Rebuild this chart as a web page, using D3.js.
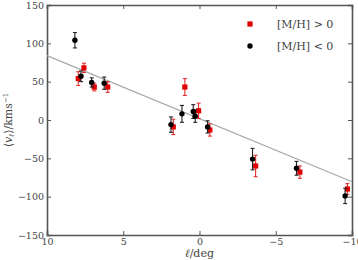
<!DOCTYPE html>
<html>
<head>
<meta charset="utf-8">
<script src="https://cdn.jsdelivr.net/npm/d3@7"></script>
<style>
  html, body { margin: 0; padding: 0; background: #fff; }
  svg { display: block; font-family: "DejaVu Serif", "Liberation Serif", serif; }
</style>
</head>
<body>
<div id="chart"></div>
<script>
// metal-poor stars, [M/H] < 0
var poorL = [8.17, 7.77, 7.07, 6.25, 1.87, 1.15, 0.41, 0.28, -0.53, -3.48, -6.36, -9.55];
var poorV = [104, 57, 49, 48, -6, 8, 11, 5, -9, -51, -63, -99];
var poorErr = [10, 7, 6, 8, 10, 11, 9, 8, 8, 14, 9, 10];

// metal-rich stars, [M/H] > 0
var richL = [7.95, 7.58, 6.9, 6.02, 1.72, 0.96, 0.06, -0.68, -3.68, -6.58, -9.7];
var richV = [54, 68, 43, 43, -9, 43, 12, -13, -60, -68, -90];
var richErr = [9, 6, 5, 7, 10, 11, 10, 8, 14, 8, 7];

// linear fit
var fitL = [10, -10];
var fitV = [84, -80.5];

var xTicks = [10, 5, 0, -5, -10];
var yTicks = [-150, -100, -50, 0, 50, 100, 150];

(function () {
  'use strict';

  var width = 358, height = 260;
  var margin = { top: 5, right: 6, bottom: 25, left: 47 };

  var svg = d3.select('#chart').append('svg')
    .attr('width', width)
    .attr('height', height);

  var x = d3.scaleLinear().domain([10, -10]).range([margin.left, width - margin.right]);
  var y = d3.scaleLinear().domain([-150, 150]).range([height - margin.bottom, margin.top]);

  var axisColor = '#555';
  var textColor = '#444';
  var minus = function (d) { return d3.format('')(d).replace('-', '\u2212'); };

  // axes (ticks point inward, on all four sides)
  var bottom = svg.append('g')
    .attr('transform', 'translate(0,' + (height - margin.bottom) + ')')
    .call(d3.axisBottom(x).tickValues(xTicks).tickSize(-4).tickPadding(3).tickFormat(minus));
  var top = svg.append('g')
    .attr('transform', 'translate(0,' + margin.top + ')')
    .call(d3.axisTop(x).tickValues(xTicks).tickSize(-4).tickFormat(''));
  var left = svg.append('g')
    .attr('transform', 'translate(' + margin.left + ',0)')
    .call(d3.axisLeft(y).tickValues(yTicks).tickSize(-4).tickPadding(3).tickFormat(minus));
  var right = svg.append('g')
    .attr('transform', 'translate(' + (width - margin.right) + ',0)')
    .call(d3.axisRight(y).tickValues(yTicks).tickSize(-4).tickFormat(''));

  [bottom, top, left, right].forEach(function (g) {
    g.select('.domain').attr('stroke', axisColor).attr('stroke-width', 1.6);
    g.selectAll('.tick line').attr('stroke', axisColor).attr('stroke-width', 1);
    g.selectAll('.tick text')
      .attr('fill', textColor)
      .attr('font-size', 9.5)
      .attr('font-family', '"DejaVu Serif", "Liberation Serif", serif');
  });

  // fit line
  svg.append('line')
    .attr('x1', x(fitL[0])).attr('y1', y(fitV[0]))
    .attr('x2', x(fitL[1])).attr('y2', y(fitV[1]))
    .attr('stroke', '#a8a8a8')
    .attr('stroke-width', 1.2);

  function series(ls, vs, errs, color, barColor, shape) {
    var pts = ls.map(function (l, i) { return { l: l, v: vs[i], e: errs[i] }; });
    var g = svg.append('g');
    var bars = g.selectAll('g.eb').data(pts).join('g').attr('class', 'eb')
      .attr('stroke', barColor).attr('stroke-width', 1.1);
    bars.append('line')
      .attr('x1', function (d) { return x(d.l); })
      .attr('x2', function (d) { return x(d.l); })
      .attr('y1', function (d) { return y(d.v - d.e); })
      .attr('y2', function (d) { return y(d.v + d.e); });
    [-1, 1].forEach(function (s) {
      bars.append('line')
        .attr('x1', function (d) { return x(d.l) - 2; })
        .attr('x2', function (d) { return x(d.l) + 2; })
        .attr('y1', function (d) { return y(d.v + s * d.e); })
        .attr('y2', function (d) { return y(d.v + s * d.e); });
    });
    if (shape === 'square') {
      g.selectAll('rect').data(pts).join('rect')
        .attr('x', function (d) { return x(d.l) - 2.6; })
        .attr('y', function (d) { return y(d.v) - 2.6; })
        .attr('width', 5.2).attr('height', 5.2)
        .attr('fill', color);
    } else {
      g.selectAll('circle').data(pts).join('circle')
        .attr('cx', function (d) { return x(d.l); })
        .attr('cy', function (d) { return y(d.v); })
        .attr('r', 2.7)
        .attr('fill', color);
    }
  }

  series(richL, richV, richErr, '#e00000', '#e03030', 'square');
  series(poorL, poorV, poorErr, '#000', '#222', 'circle');

  // legend
  var lg = svg.append('g').attr('font-size', 11).attr('fill', textColor);
  lg.append('rect').attr('x', 247.4).attr('y', 21.4).attr('width', 5.2).attr('height', 5.2).attr('fill', '#e00000');
  lg.append('text').attr('x', 277).attr('y', 28).text('[M/H] > 0');
  lg.append('circle').attr('cx', 250).attr('cy', 46).attr('r', 2.7).attr('fill', '#000');
  lg.append('text').attr('x', 277).attr('y', 50).text('[M/H] < 0');

  // axis labels
  var xl = svg.append('text')
    .attr('x', x(0)).attr('y', 257)
    .attr('text-anchor', 'middle')
    .attr('font-size', 11).attr('fill', textColor);
  xl.append('tspan').attr('font-style', 'italic').text('\u2113');
  xl.append('tspan').text('/deg');

  var yl = svg.append('text')
    .attr('transform', 'translate(12,' + y(0) + ') rotate(-90)')
    .attr('text-anchor', 'middle')
    .attr('font-size', 11).attr('fill', textColor);
  yl.append('tspan').text('\u27e8');
  yl.append('tspan').attr('font-style', 'italic').text('v');
  yl.append('tspan').attr('font-size', 7).attr('dy', 2).attr('font-style', 'italic').text('\u2113');
  yl.append('tspan').attr('dy', -2).text('\u27e9/kms');
  yl.append('tspan').attr('font-size', 7).attr('dy', -4).text('\u22121');
})();
</script>
</body>
</html>
